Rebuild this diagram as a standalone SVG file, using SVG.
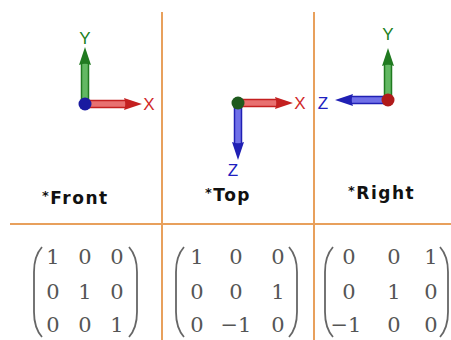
<svg xmlns="http://www.w3.org/2000/svg" width="451" height="340" viewBox="0 0 451 340">
<style>
.grid{stroke:#E8A05C;stroke-width:2;fill:none}
.r .sh{fill:#E87070;stroke:#C42020;stroke-width:1.5}
.r .hd{fill:#C42020}
.g .sh{fill:#62B862;stroke:#207A20;stroke-width:1.5}
.g .hd{fill:#207A20}
.b .sh{fill:#7070E8;stroke:#2020B4;stroke-width:1.5}
.b .hd{fill:#2020B4}
.lab{font-family:"Liberation Sans",sans-serif;font-size:17px;text-anchor:middle}
.lr{fill:#D02828}.lg{fill:#208020}.lb{fill:#2020C0}
.title{font-family:"DejaVu Sans",sans-serif;font-weight:bold;font-size:17px;letter-spacing:1.5px;fill:#111}
.ast{font-size:13px}
.m{font-family:"DejaVu Serif",serif;font-size:21px;fill:#555;text-anchor:middle}
.par{fill:none;stroke:#666;stroke-width:1.8}
</style>
<g id="grid">
<line class="grid" x1="10" y1="224" x2="451" y2="224"/>
<line class="grid" x1="162" y1="12" x2="162" y2="340"/>
<line class="grid" x1="314" y1="12" x2="314" y2="340"/>
</g>
<g id="connectors">
<g class="g" transform="translate(85,104) rotate(-90)"><rect class="sh" x="0" y="-3.5" width="41" height="7"/><polygon class="hd" points="57,0 39,-6 41,0 39,6"/></g>
<g class="r" transform="translate(85,104)"><rect class="sh" x="0" y="-3.5" width="41" height="7"/><polygon class="hd" points="57,0 39,-6 41,0 39,6"/></g>
<g class="r" transform="translate(238,103)"><rect class="sh" x="0" y="-3.5" width="39" height="7"/><polygon class="hd" points="55,0 37,-6 39,0 37,6"/></g>
<g class="b" transform="translate(238,103) rotate(90)"><rect class="sh" x="0" y="-3.5" width="41" height="7"/><polygon class="hd" points="57,0 39,-6 41,0 39,6"/></g>
<g class="g" transform="translate(388,100) rotate(-90)"><rect class="sh" x="0" y="-3.5" width="36" height="7"/><polygon class="hd" points="52,0 34,-6 36,0 34,6"/></g>
<g class="b" transform="translate(388,100) rotate(180)"><rect class="sh" x="0" y="-3.5" width="37" height="7"/><polygon class="hd" points="53,0 35,-6 37,0 35,6"/></g>
</g>
<g id="front">
<circle cx="85" cy="104" r="6.5" fill="#1A1AA0"/>
<text class="lab lg" x="85" y="44">Y</text>
<text class="lab lr" x="149" y="110">X</text>
<text class="title" x="42" y="204"><tspan class="ast" dy="-4">*</tspan><tspan dy="4">Front</tspan></text>
</g>
<g id="top">
<circle cx="238" cy="103" r="6.5" fill="#1E5A1E"/>
<text class="lab lr" x="300" y="109">X</text>
<text class="lab lb" x="233" y="176">Z</text>
<text class="title" x="205" y="201"><tspan class="ast" dy="-4">*</tspan><tspan dy="4">Top</tspan></text>
</g>
<g id="right">
<circle cx="388" cy="100" r="6.5" fill="#B01A1A"/>
<text class="lab lg" x="388" y="40">Y</text>
<text class="lab lb" x="323" y="109">Z</text>
<text class="title" x="348" y="199"><tspan class="ast" dy="-4">*</tspan><tspan dy="4">Right</tspan></text>
</g>
<g id="matrix-front">
<path class="par" d="M42,247 Q34,256 34,272 L34,312 Q34,328 42,337"/>
<path class="par" d="M129,247 Q137,256 137,272 L137,312 Q137,328 129,337"/>
<text class="m" x="53" y="264">1</text><text class="m" x="85" y="264">0</text><text class="m" x="117" y="264">0</text>
<text class="m" x="53" y="299">0</text><text class="m" x="85" y="299">1</text><text class="m" x="117" y="299">0</text>
<text class="m" x="53" y="332">0</text><text class="m" x="85" y="332">0</text><text class="m" x="117" y="332">1</text>
</g>
<g id="matrix-top">
<path class="par" d="M184,247 Q176,256 176,272 L176,312 Q176,328 184,337"/>
<path class="par" d="M289,247 Q297,256 297,272 L297,312 Q297,328 289,337"/>
<text class="m" x="197" y="264">1</text><text class="m" x="236" y="264">0</text><text class="m" x="278" y="264">0</text>
<text class="m" x="197" y="299">0</text><text class="m" x="236" y="299">0</text><text class="m" x="278" y="299">1</text>
<text class="m" x="197" y="332">0</text><text class="m" x="236" y="332">−1</text><text class="m" x="278" y="332">0</text>
</g>
<g id="matrix-right">
<path class="par" d="M333,247 Q325,256 325,272 L325,312 Q325,328 333,337"/>
<path class="par" d="M440,247 Q448,256 448,272 L448,312 Q448,328 440,337"/>
<text class="m" x="349" y="264">0</text><text class="m" x="394" y="264">0</text><text class="m" x="431" y="264">1</text>
<text class="m" x="349" y="299">0</text><text class="m" x="394" y="299">1</text><text class="m" x="431" y="299">0</text>
<text class="m" x="346" y="332">−1</text><text class="m" x="394" y="332">0</text><text class="m" x="431" y="332">0</text>
</g>
</svg>
